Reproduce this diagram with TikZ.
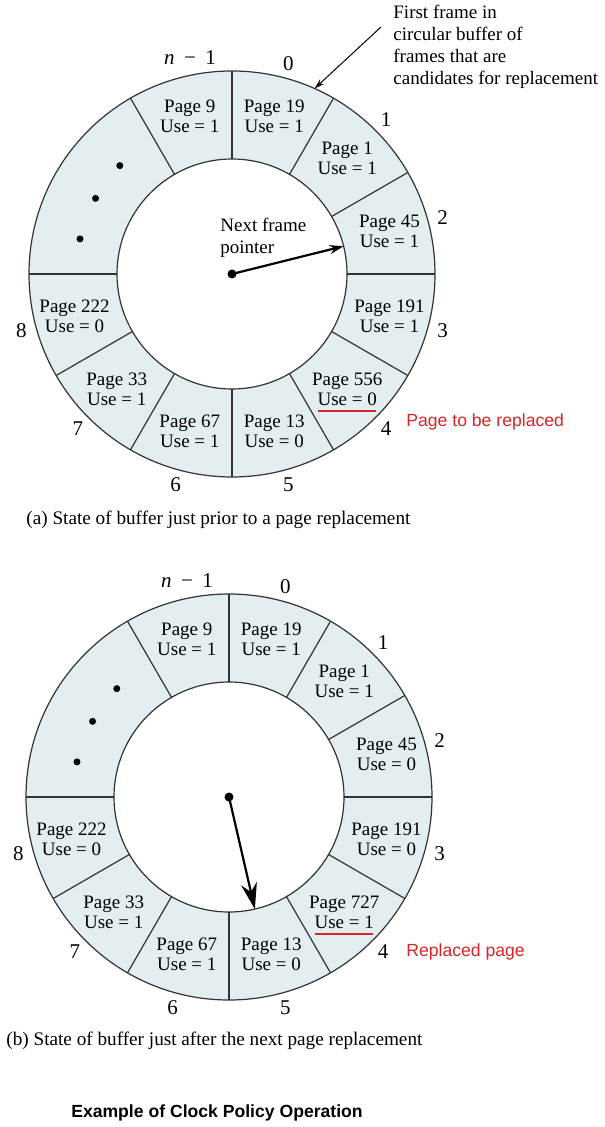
\documentclass[tikz,border=0pt]{standalone}
\usepackage{fontspec}
\setmainfont{Liberation Serif}
\newfontfamily\sansfam{Liberation Sans}
\usetikzlibrary{arrows.meta,calc}
\definecolor{ringfill}{RGB}{227,238,241}
\definecolor{markred}{RGB}{214,38,38}

\begin{document}
\begin{tikzpicture}[x=0.5pt,y=0.5pt,
  ringline/.style={draw=black!80,line width=0.6pt},
  frame/.style={inner sep=0pt,align=center,font=\fontsize{9.5}{10}\selectfont},
  idx/.style={inner sep=0pt,font=\fontsize{10.5}{12}\selectfont},
  note/.style={inner sep=0pt,align=left,anchor=north west,font=\fontsize{9.5}{10.9}\selectfont},
  caption/.style={inner sep=0pt,anchor=west,font=\fontsize{9.6}{11}\selectfont},
  redlabel/.style={inner sep=0pt,anchor=west,text=markred,font=\sansfam\fontsize{8.8}{10}\selectfont},
  redline/.style={draw=markred,line width=0.75pt},
  hub/.style={circle,fill=black,inner sep=0pt,minimum size=4.5pt},
  pointer/.style={line width=1.1pt,-{Stealth[#1]}}]
  \path[use as bounding box,fill=white] (0,0) rectangle (604,-1127);

  % (a) before the replacement
  \begin{scope}[shift={(232,-274)}]
    \fill[ringfill,even odd rule] (0,0) circle (203) (0,0) circle (115);
    \draw[ringline] (0,0) circle (203) (0,0) circle (115);
    \foreach \ang in {90,60,30,0,-30,-60,-90,-120,-150,180,120}
      \draw[ringline] (\ang:115) -- (\ang:203);
    \foreach \ang in {136,151,167} \fill (\ang:156) circle (3.5);
    \foreach \k/\ang/\pg/\bit in {0/75/19/1,1/45/1/1,2/15/45/1,3/-15/191/1,4/-45/556/0,5/-75/13/0,6/-105/67/1,7/-135/33/1,8/-165/222/0,n/105/9/1}
      \node[frame] (a\k) at (\ang:163) {Page \pg\\Use = \bit};
    \draw[redline] ($(a4.south)+(-29,-5)$) -- ($(a4.south)+(29,-5)$);
    \foreach \k/\ang in {0/75,1/45,2/15,3/-15,4/-45,5/-75,6/-105,7/-135,8/-165}
      \node[idx] (ai\k) at (\ang:218) {\k};
    \node[idx] (ain) at (101:220) {\textit{n}\hspace{0.45em}−\hspace{0.45em}1};
    \node[hub] (ahub) at (0,0) {};
    \coordinate (atip) at (14:115);
    \coordinate (afirst) at (66:203);
    \draw[pointer={length=7pt,width=4.5pt}] (ahub.center) -- (atip);
    \node[note,font=\fontsize{9.5}{11}\selectfont] (anext) at (-12,56) {Next frame\\pointer};
  \end{scope}

  \node[note] (firstnote) at (393,-5) {First frame in\\circular buffer of\\frames that are\\candidates for replacement};
  \coordinate (nstart) at (381,-27);
  \draw[line width=0.5pt,-{Stealth[length=5pt,width=3pt]}] (nstart) -- (afirst);
  \node[redlabel] (repa) at (406,-422) {Page to be replaced};
  \node[caption] (capa) at (26,-520) {(a) State of buffer just prior to a page replacement};

  % (b) after the replacement
  \begin{scope}[shift={(229,-797)}]
    \fill[ringfill,even odd rule] (0,0) circle (203) (0,0) circle (115);
    \draw[ringline] (0,0) circle (203) (0,0) circle (115);
    \foreach \ang in {90,60,30,0,-30,-60,-90,-120,-150,180,120}
      \draw[ringline] (\ang:115) -- (\ang:203);
    \foreach \ang in {136,151,167} \fill (\ang:156) circle (3.5);
    \foreach \k/\ang/\pg/\bit in {0/75/19/1,1/45/1/1,2/15/45/0,3/-15/191/0,4/-45/727/1,5/-75/13/0,6/-105/67/1,7/-135/33/1,8/-165/222/0,n/105/9/1}
      \node[frame] (b\k) at (\ang:163) {Page \pg\\Use = \bit};
    \draw[redline] ($(b4.south)+(-29,-5)$) -- ($(b4.south)+(29,-5)$);
    \foreach \k/\ang in {0/75,1/45,2/15,3/-15,4/-45,5/-75,6/-105,7/-135,8/-165}
      \node[idx] (bi\k) at (\ang:218) {\k};
    \node[idx] (bin) at (101:220) {\textit{n}\hspace{0.45em}−\hspace{0.45em}1};
    \node[hub] (bhub) at (0,0) {};
    \coordinate (btip) at (-77:115);
    \draw[pointer={length=13pt,width=8pt}] (bhub.center) -- (btip);
  \end{scope}

  \node[redlabel] (repb) at (406,-952) {Replaced page};
  \node[caption] (capb) at (6,-1041) {(b) State of buffer just after the next page replacement};
  \node[inner sep=0pt,font=\sansfam\bfseries\fontsize{8.8}{10}\selectfont] (title) at (217,-1113) {Example of Clock Policy Operation};
\end{tikzpicture}
\end{document}
